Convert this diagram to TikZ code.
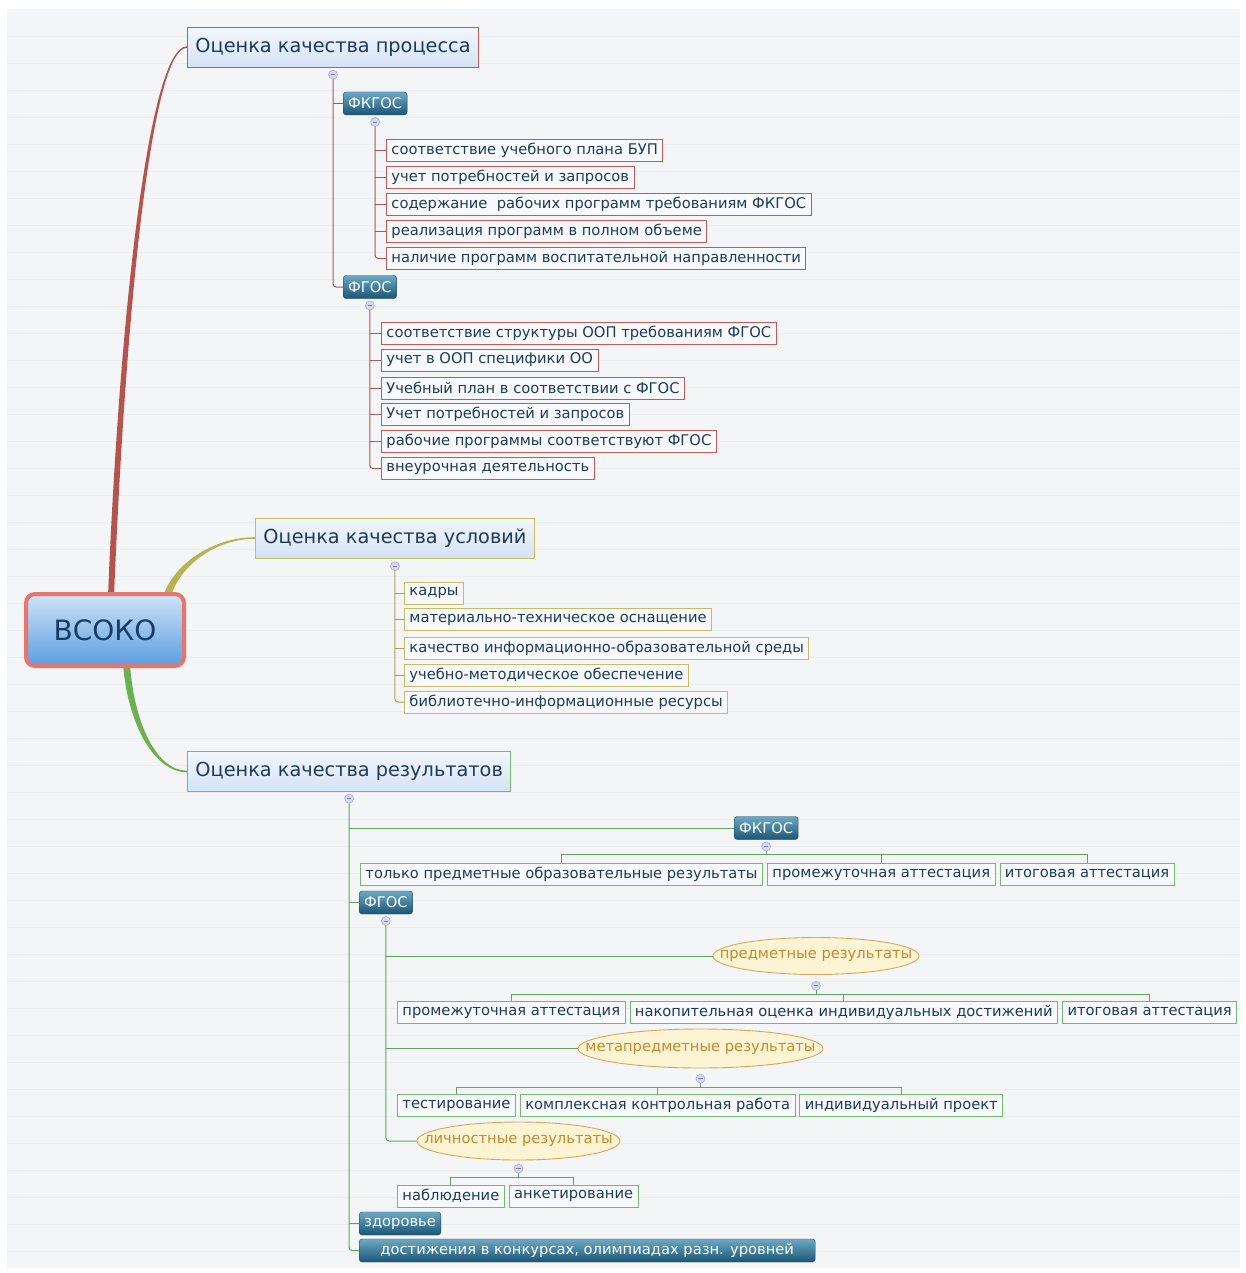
\documentclass[tikz,border=0pt]{standalone}
\usepackage{fontspec}
\setmainfont{DejaVu Sans}
\usetikzlibrary{positioning,shapes.geometric,calc,backgrounds}

\definecolor{bgPage}{HTML}{F3F5F7}
\definecolor{bgRule}{HTML}{ECEFF2}
\definecolor{txt}{HTML}{1E3C58}
\definecolor{leafFill}{HTML}{F7F9FC}
\definecolor{procC}{HTML}{B4544F}
\definecolor{procLine}{HTML}{A45A56}
\definecolor{procBorder}{HTML}{BF5C58}
\definecolor{condC}{HTML}{B6B452}
\definecolor{condLine}{HTML}{A8A456}
\definecolor{condBorder}{HTML}{C4BE62}
\definecolor{resC}{HTML}{6DB052}
\definecolor{resLine}{HTML}{62A462}
\definecolor{resBorder}{HTML}{74B874}
\definecolor{tealTop}{HTML}{6BA9C5}
\definecolor{tealBot}{HTML}{1B5674}
\definecolor{ovalFill}{HTML}{FCF4D2}
\definecolor{ovalBorder}{HTML}{D2A95E}
\definecolor{ovalText}{HTML}{C58A32}
\definecolor{rootTop}{HTML}{CFE3F6}
\definecolor{rootBot}{HTML}{5C9DE0}
\definecolor{rootEdge}{HTML}{E8756B}
\definecolor{rootText}{HTML}{173C66}
\definecolor{topicTop}{HTML}{F2F6FC}
\definecolor{topicBot}{HTML}{D5E3F5}

\newcommand\leaffont{\fontsize{14.7}{17}\selectfont}
\newcommand\topicfont{\fontsize{19.3}{23}\selectfont}

\tikzset{
  leaf/.style={draw, fill=leafFill, text=txt, font=\leaffont, inner xsep=5, inner ysep=2,
    minimum height=22, anchor=west, line width=0.9},
  leafP/.style={leaf, draw=procBorder},
  leafC/.style={leaf, draw=condBorder},
  leafR/.style={leaf, draw=resBorder},
  topic/.style={draw, top color=topicTop, bottom color=topicBot, text=txt,
    font=\topicfont, inner xsep=8, minimum height=40, anchor=west, line width=0.9},
  topicP/.style={topic, draw=procBorder},
  topicC/.style={topic, draw=condBorder},
  topicR/.style={topic, draw=resBorder},
  tealbox/.style={draw=tealBot!80!black, top color=tealTop, bottom color=tealBot, text=white,
    font=\leaffont, rounded corners=3, inner xsep=5, minimum height=23, anchor=west},
  ovalbox/.style={ellipse, draw=ovalBorder, fill=ovalFill, text=ovalText, font=\leaffont,
    inner sep=0, line width=0.9},
  knob/.style={circle, minimum size=9, inner sep=0, fill=blue!25!gray!25, draw=blue!30!gray!55,
    line width=0.5,
    path picture={\draw[blue!30!gray!80, line width=0.6]
      ([xshift=-2.2]path picture bounding box.center) -- ([xshift=2.2]path picture bounding box.center);}},
  lnP/.style={draw=procLine, line width=1, rounded corners=3},
  lnC/.style={draw=condLine, line width=1, rounded corners=3},
  lnR/.style={draw=resLine, line width=1, rounded corners=3},
  rootbox/.style={draw=rootEdge, line width=4, rounded corners=9,
    top color=rootTop, bottom color=rootBot, text=rootText,
    font=\fontsize{28}{32}\selectfont, minimum width=158, minimum height=72}
}

\begin{document}
\begin{tikzpicture}[x=1pt, y=-1pt]
\useasboundingbox (0,0) rectangle (1246,1273);

% centre and the three topics
\node[rootbox] (vsoko) at (105,630) {ВСОКО};
\node[topicP] (p1) at (187,47) {Оценка качества процесса};
\node[topicC] (p2) at (255,538) {Оценка качества условий};
\node[topicR] (p3) at (187,771.5) {Оценка качества результатов};

% --- process ---
\node[knob, below=2.5pt of p1] (p1c) {};
\node[tealbox] (pfk) at (343,103.5) {ФКГОС};
\node[knob, below=2pt of pfk] (pfkc) {};
\node[leafP] (pk1) at (386,150.5) {соответствие учебного плана БУП};
\node[leafP] (pk2) at (386,177.5) {учет потребностей и запросов};
\node[leafP] (pk3) at (386,204.5) {содержание \ рабочих программ требованиям ФКГОС};
\node[leafP] (pk4) at (386,231.5) {реализация программ в полном объеме};
\node[leafP] (pk5) at (386,258.5) {наличие программ воспитательной направленности};
\node[tealbox] (pfg) at (343,287) {ФГОС};
\node[knob, below=2pt of pfg] (pfgc) {};
\node[leafP] (pg1) at (381,333) {соответствие структуры ООП требованиям ФГОС};
\node[leafP] (pg2) at (381,360) {учет в ООП специфики ОО};
\node[leafP] (pg3) at (381,388) {Учебный план в соответствии с ФГОС};
\node[leafP] (pg4) at (381,414.5) {Учет потребностей и запросов};
\node[leafP] (pg5) at (381,441.5) {рабочие программы соответствуют ФГОС};
\node[leafP] (pg6) at (381,468.5) {внеурочная деятельность};

\draw[lnP] (p1c) |- (pfg.west);
\draw[lnP] (pfk.west) -- (p1c |- pfk.west);
\draw[lnP] (pfkc) |- (pk5.west);
\foreach \i in {1,...,4} \draw[lnP] (pk\i.west) -- (pfkc |- pk\i.west);
\draw[lnP] (pfgc) |- (pg6.west);
\foreach \i in {1,...,5} \draw[lnP] (pg\i.west) -- (pfgc |- pg\i.west);

% --- conditions ---
\node[knob, below=3pt of p2] (p2c) {};
\node[leafC] (c1) at (404,593) {кадры};
\node[leafC] (c2) at (404,619.5) {материально-техническое оснащение};
\node[leafC] (c3) at (404,648) {качество информационно-образовательной среды};
\node[leafC] (c4) at (404,675) {учебно-методическое обеспечение};
\node[leafC] (c5) at (404,702) {библиотечно-информационные ресурсы};

\draw[lnC] (p2c) |- (c5.west);
\foreach \i in {1,...,4} \draw[lnC] (c\i.west) -- (p2c |- c\i.west);

% --- results ---
\node[knob, below=2pt of p3] (p3c) {};
\node[tealbox] (rfk) at (734,828) {ФКГОС};
\node[knob, below=2pt of rfk] (rfkc) {};
\node[leafR] (rk1) at (360,874.5) {только предметные образовательные результаты};
\node[leafR, right=4pt of rk1] (rk2) {промежуточная аттестация};
\node[leafR, right=4pt of rk2] (rk3) {итоговая аттестация};
\node[tealbox] (rfg) at (359,902.5) {ФГОС};
\node[knob, below=2pt of rfg] (rfgc) {};

\node[ovalbox, minimum width=206, minimum height=37] (e1) at (816,956) {\makebox[0pt]{предметные результаты}};
\node[knob, below=6pt of e1] (e1c) {};
\node[leafR] (ep1) at (397,1012.5) {промежуточная аттестация};
\node[leafR, right=4pt of ep1] (ep2) {накопительная оценка индивидуальных достижений};
\node[leafR, right=4pt of ep2] (ep3) {итоговая аттестация};

\node[ovalbox, minimum width=245, minimum height=39] (e2) at (700.5,1048.5) {\makebox[0pt]{метапредметные результаты}};
\node[knob, below=5.5pt of e2] (e2c) {};
\node[leafR] (em1) at (397,1105.5) {тестирование};
\node[leafR, right=4pt of em1] (em2) {комплексная контрольная работа};
\node[leafR, right=4pt of em2] (em3) {индивидуальный проект};

\node[ovalbox, minimum width=203, minimum height=38] (e3) at (518.5,1141) {\makebox[0pt]{личностные результаты}};
\node[knob, below=3.5pt of e3] (e3c) {};
\node[leafR] (el1) at (397,1196) {наблюдение};
\node[leafR, right=4pt of el1] (el2) {анкетирование};

\node[tealbox] (rz) at (359,1223.5) {здоровье};
\node[tealbox, minimum width=456] (rd) at (359,1250.5) {достижения в конкурсах, олимпиадах разн. уровней};

\draw[lnR] (p3c) |- (rd.west);
\foreach \n in {rfk,rfg,rz} \draw[lnR] (\n.west) -- (p3c |- \n.west);
\draw[lnR] (rfgc) |- (e3.west);
\foreach \n in {e1,e2} \draw[lnR] (\n.west) -- (rfgc |- \n.west);

\draw[resLine, line width=1] (rfkc) -- ++(0,8);
\draw[resLine, line width=1] (rk1.north) -- ++(0,-9) -| (rk3.north);
\draw[resLine, line width=1] (rk2.north) -- ++(0,-9);
\draw[resLine, line width=1] (e1c) -- ++(0,9);
\draw[resLine, line width=1] (ep1.north) -- ++(0,-7) -| (ep3.north);
\draw[resLine, line width=1] (ep2.north) -- ++(0,-7);
\draw[resLine, line width=1] (e2c) -- ++(0,9);
\draw[resLine, line width=1] (em1.north) -- ++(0,-7) -| (em3.north);
\draw[resLine, line width=1] (em2.north) -- ++(0,-7);
\draw[resLine, line width=1] (e3c) -- ++(0,9);
\draw[resLine, line width=1] (el1.north) -- ++(0,-7) -| (el2.north);

% page and the three main branches
\begin{pgfonlayer}{background}
\fill[white] (0,0) rectangle (1246,1273);
\fill[bgPage] (7,9) rectangle (1240,1268);
\foreach \y in {36,63,...,1260} \draw[bgRule, line width=0.4] (7,\y) -- (1240,\y);
\fill[procC] ($(vsoko.north)+(3,4)$) .. controls +(12,-293) and +(-37,0) .. ($(p1.west)+(0,-0.8)$)
  -- ($(p1.west)+(0,0.8)$) .. controls +(-35,0) and +(12,-293) .. ($(vsoko.north)+(9,4)$) -- cycle;
\fill[condC] ($(vsoko.north east)+(-23,4)$) .. controls +(12,-34) and +(-40,0) .. ($(p2.west)+(0,-0.8)$)
  -- ($(p2.west)+(0,0.8)$) .. controls +(-38,0) and +(10,-32) .. ($(vsoko.north east)+(-15,4)$) -- cycle;
\fill[resC] ($(vsoko.south)+(18,-4)$) .. controls +(5,62) and +(-32,0) .. ($(p3.west)+(0,0.8)$)
  -- ($(p3.west)+(0,-0.8)$) .. controls +(-30,0) and +(4,60) .. ($(vsoko.south)+(25,-4)$) -- cycle;
\end{pgfonlayer}
\end{tikzpicture}
\end{document}
